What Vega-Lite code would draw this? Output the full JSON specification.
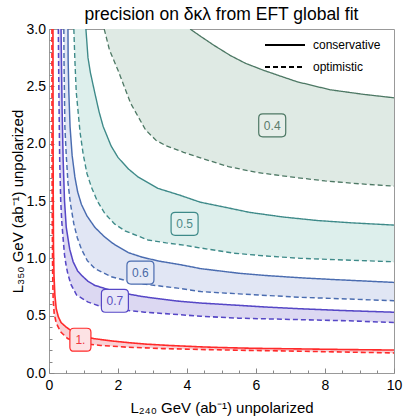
{
  "$schema": "https://vega.github.io/schema/vega-lite/v6.json",
  "width": 345,
  "height": 344,
  "autosize": {"type": "none"},
  "padding": {"left": 49, "top": 29, "right": 25, "bottom": 46},
  "config": {
    "view": {"stroke": "#999999", "strokeWidth": 1},
    "font": "Liberation Sans"
  },
  "title": {
    "text": "precision on δκλ from EFT global fit",
    "fontSize": 17.5,
    "fontWeight": "normal",
    "font": "Liberation Sans",
    "color": "black",
    "baseline": "top",
    "offset": -1,
    "anchor": "middle",
    "frame": "group"
  },
  "datasets": {
    "curves": [
      {"l":"1.","t":"conservative","i":0,"x":10,"y":0.2},
      {"l":"1.","t":"conservative","i":1,"x":8.5,"y":0.205},
      {"l":"1.","t":"conservative","i":2,"x":7.3,"y":0.21},
      {"l":"1.","t":"conservative","i":3,"x":6,"y":0.215},
      {"l":"1.","t":"conservative","i":4,"x":5,"y":0.222},
      {"l":"1.","t":"conservative","i":5,"x":4.4,"y":0.228},
      {"l":"1.","t":"conservative","i":6,"x":3.5,"y":0.24},
      {"l":"1.","t":"conservative","i":7,"x":2.8,"y":0.252},
      {"l":"1.","t":"conservative","i":8,"x":2.3,"y":0.265},
      {"l":"1.","t":"conservative","i":9,"x":1.8,"y":0.28},
      {"l":"1.","t":"conservative","i":10,"x":1.3,"y":0.3},
      {"l":"1.","t":"conservative","i":11,"x":1.0,"y":0.318},
      {"l":"1.","t":"conservative","i":12,"x":0.8,"y":0.34},
      {"l":"1.","t":"conservative","i":13,"x":0.64,"y":0.37},
      {"l":"1.","t":"conservative","i":14,"x":0.5,"y":0.4},
      {"l":"1.","t":"conservative","i":15,"x":0.35,"y":0.44},
      {"l":"1.","t":"conservative","i":16,"x":0.27,"y":0.49},
      {"l":"1.","t":"conservative","i":17,"x":0.21,"y":0.56},
      {"l":"1.","t":"conservative","i":18,"x":0.17,"y":0.68},
      {"l":"1.","t":"conservative","i":19,"x":0.145,"y":0.85},
      {"l":"1.","t":"conservative","i":20,"x":0.13,"y":1.1},
      {"l":"1.","t":"conservative","i":21,"x":0.122,"y":1.6},
      {"l":"1.","t":"conservative","i":22,"x":0.118,"y":2.2},
      {"l":"1.","t":"conservative","i":23,"x":0.115,"y":3.0},
      {"l":"1.","t":"optimistic","i":24,"x":0.085,"y":3.0},
      {"l":"1.","t":"optimistic","i":25,"x":0.088,"y":2.0},
      {"l":"1.","t":"optimistic","i":26,"x":0.095,"y":1.3},
      {"l":"1.","t":"optimistic","i":27,"x":0.105,"y":0.9},
      {"l":"1.","t":"optimistic","i":28,"x":0.12,"y":0.65},
      {"l":"1.","t":"optimistic","i":29,"x":0.15,"y":0.52},
      {"l":"1.","t":"optimistic","i":30,"x":0.2,"y":0.45},
      {"l":"1.","t":"optimistic","i":31,"x":0.25,"y":0.41},
      {"l":"1.","t":"optimistic","i":32,"x":0.35,"y":0.355},
      {"l":"1.","t":"optimistic","i":33,"x":0.54,"y":0.3},
      {"l":"1.","t":"optimistic","i":34,"x":0.75,"y":0.275},
      {"l":"1.","t":"optimistic","i":35,"x":1.03,"y":0.255},
      {"l":"1.","t":"optimistic","i":36,"x":1.5,"y":0.24},
      {"l":"1.","t":"optimistic","i":37,"x":2.28,"y":0.225},
      {"l":"1.","t":"optimistic","i":38,"x":3.3,"y":0.213},
      {"l":"1.","t":"optimistic","i":39,"x":4.4,"y":0.205},
      {"l":"1.","t":"optimistic","i":40,"x":5.8,"y":0.197},
      {"l":"1.","t":"optimistic","i":41,"x":7.3,"y":0.19},
      {"l":"1.","t":"optimistic","i":42,"x":8.7,"y":0.182},
      {"l":"1.","t":"optimistic","i":43,"x":10,"y":0.175},

      {"l":"0.7","t":"conservative","i":0,"x":10,"y":0.53},
      {"l":"0.7","t":"conservative","i":1,"x":8.5,"y":0.545},
      {"l":"0.7","t":"conservative","i":2,"x":7.3,"y":0.56},
      {"l":"0.7","t":"conservative","i":3,"x":6.3,"y":0.575},
      {"l":"0.7","t":"conservative","i":4,"x":5.5,"y":0.59},
      {"l":"0.7","t":"conservative","i":5,"x":4.4,"y":0.61},
      {"l":"0.7","t":"conservative","i":6,"x":3.8,"y":0.625},
      {"l":"0.7","t":"conservative","i":7,"x":3.24,"y":0.645},
      {"l":"0.7","t":"conservative","i":8,"x":2.7,"y":0.667},
      {"l":"0.7","t":"conservative","i":9,"x":2.28,"y":0.69},
      {"l":"0.7","t":"conservative","i":10,"x":1.8,"y":0.72},
      {"l":"0.7","t":"conservative","i":11,"x":1.32,"y":0.765},
      {"l":"0.7","t":"conservative","i":12,"x":1.13,"y":0.8},
      {"l":"0.7","t":"conservative","i":13,"x":0.95,"y":0.85},
      {"l":"0.7","t":"conservative","i":14,"x":0.83,"y":0.89},
      {"l":"0.7","t":"conservative","i":15,"x":0.7,"y":0.97},
      {"l":"0.7","t":"conservative","i":16,"x":0.6,"y":1.08},
      {"l":"0.7","t":"conservative","i":17,"x":0.5,"y":1.27},
      {"l":"0.7","t":"conservative","i":18,"x":0.45,"y":1.5},
      {"l":"0.7","t":"conservative","i":19,"x":0.41,"y":1.86},
      {"l":"0.7","t":"conservative","i":20,"x":0.38,"y":2.3},
      {"l":"0.7","t":"conservative","i":21,"x":0.36,"y":2.73},
      {"l":"0.7","t":"conservative","i":22,"x":0.35,"y":3.0},
      {"l":"0.7","t":"optimistic","i":23,"x":0.27,"y":3.0},
      {"l":"0.7","t":"optimistic","i":24,"x":0.285,"y":2.5},
      {"l":"0.7","t":"optimistic","i":25,"x":0.31,"y":1.86},
      {"l":"0.7","t":"optimistic","i":26,"x":0.34,"y":1.5},
      {"l":"0.7","t":"optimistic","i":27,"x":0.37,"y":1.32},
      {"l":"0.7","t":"optimistic","i":28,"x":0.41,"y":1.17},
      {"l":"0.7","t":"optimistic","i":29,"x":0.45,"y":1.03},
      {"l":"0.7","t":"optimistic","i":30,"x":0.5,"y":0.93},
      {"l":"0.7","t":"optimistic","i":31,"x":0.55,"y":0.86},
      {"l":"0.7","t":"optimistic","i":32,"x":0.64,"y":0.77},
      {"l":"0.7","t":"optimistic","i":33,"x":0.8,"y":0.68},
      {"l":"0.7","t":"optimistic","i":34,"x":1.12,"y":0.62},
      {"l":"0.7","t":"optimistic","i":35,"x":1.5,"y":0.58},
      {"l":"0.7","t":"optimistic","i":36,"x":1.8,"y":0.562},
      {"l":"0.7","t":"optimistic","i":37,"x":2.3,"y":0.545},
      {"l":"0.7","t":"optimistic","i":38,"x":2.77,"y":0.53},
      {"l":"0.7","t":"optimistic","i":39,"x":3.5,"y":0.515},
      {"l":"0.7","t":"optimistic","i":40,"x":4.4,"y":0.495},
      {"l":"0.7","t":"optimistic","i":41,"x":5.5,"y":0.478},
      {"l":"0.7","t":"optimistic","i":42,"x":7.3,"y":0.465},
      {"l":"0.7","t":"optimistic","i":43,"x":8.7,"y":0.455},
      {"l":"0.7","t":"optimistic","i":44,"x":10,"y":0.44},

      {"l":"0.6","t":"conservative","i":0,"x":10,"y":0.79},
      {"l":"0.6","t":"conservative","i":1,"x":8.25,"y":0.815},
      {"l":"0.6","t":"conservative","i":2,"x":7.3,"y":0.83},
      {"l":"0.6","t":"conservative","i":3,"x":6.3,"y":0.85},
      {"l":"0.6","t":"conservative","i":4,"x":5.5,"y":0.87},
      {"l":"0.6","t":"conservative","i":5,"x":4.4,"y":0.91},
      {"l":"0.6","t":"conservative","i":6,"x":3.8,"y":0.945},
      {"l":"0.6","t":"conservative","i":7,"x":3.2,"y":0.975},
      {"l":"0.6","t":"conservative","i":8,"x":2.7,"y":1.01},
      {"l":"0.6","t":"conservative","i":9,"x":2.3,"y":1.05},
      {"l":"0.6","t":"conservative","i":10,"x":1.85,"y":1.13},
      {"l":"0.6","t":"conservative","i":11,"x":1.6,"y":1.19},
      {"l":"0.6","t":"conservative","i":12,"x":1.33,"y":1.27},
      {"l":"0.6","t":"conservative","i":13,"x":1.1,"y":1.37},
      {"l":"0.6","t":"conservative","i":14,"x":0.94,"y":1.47},
      {"l":"0.6","t":"conservative","i":15,"x":0.83,"y":1.58},
      {"l":"0.6","t":"conservative","i":16,"x":0.75,"y":1.71},
      {"l":"0.6","t":"conservative","i":17,"x":0.67,"y":1.9},
      {"l":"0.6","t":"conservative","i":18,"x":0.61,"y":2.15},
      {"l":"0.6","t":"conservative","i":19,"x":0.575,"y":2.45},
      {"l":"0.6","t":"conservative","i":20,"x":0.555,"y":2.73},
      {"l":"0.6","t":"conservative","i":21,"x":0.55,"y":3.0},
      {"l":"0.6","t":"optimistic","i":22,"x":0.43,"y":3.0},
      {"l":"0.6","t":"optimistic","i":23,"x":0.435,"y":2.73},
      {"l":"0.6","t":"optimistic","i":24,"x":0.46,"y":2.15},
      {"l":"0.6","t":"optimistic","i":25,"x":0.5,"y":1.9},
      {"l":"0.6","t":"optimistic","i":26,"x":0.55,"y":1.66},
      {"l":"0.6","t":"optimistic","i":27,"x":0.62,"y":1.48},
      {"l":"0.6","t":"optimistic","i":28,"x":0.72,"y":1.3},
      {"l":"0.6","t":"optimistic","i":29,"x":0.82,"y":1.18},
      {"l":"0.6","t":"optimistic","i":30,"x":0.94,"y":1.08},
      {"l":"0.6","t":"optimistic","i":31,"x":1.11,"y":0.98},
      {"l":"0.6","t":"optimistic","i":32,"x":1.33,"y":0.91},
      {"l":"0.6","t":"optimistic","i":33,"x":1.8,"y":0.84},
      {"l":"0.6","t":"optimistic","i":34,"x":2.3,"y":0.8},
      {"l":"0.6","t":"optimistic","i":35,"x":2.76,"y":0.775},
      {"l":"0.6","t":"optimistic","i":36,"x":3.73,"y":0.74},
      {"l":"0.6","t":"optimistic","i":37,"x":4.4,"y":0.71},
      {"l":"0.6","t":"optimistic","i":38,"x":5.5,"y":0.69},
      {"l":"0.6","t":"optimistic","i":39,"x":7.3,"y":0.66},
      {"l":"0.6","t":"optimistic","i":40,"x":8.7,"y":0.645},
      {"l":"0.6","t":"optimistic","i":41,"x":10,"y":0.63},

      {"l":"0.5","t":"conservative","i":0,"x":10,"y":1.29},
      {"l":"0.5","t":"conservative","i":1,"x":8.74,"y":1.31},
      {"l":"0.5","t":"conservative","i":2,"x":7.77,"y":1.33},
      {"l":"0.5","t":"conservative","i":3,"x":6.8,"y":1.36},
      {"l":"0.5","t":"conservative","i":4,"x":5.83,"y":1.4},
      {"l":"0.5","t":"conservative","i":5,"x":4.87,"y":1.46},
      {"l":"0.5","t":"conservative","i":6,"x":4.38,"y":1.49},
      {"l":"0.5","t":"conservative","i":7,"x":3.8,"y":1.55},
      {"l":"0.5","t":"conservative","i":8,"x":3.16,"y":1.61},
      {"l":"0.5","t":"conservative","i":9,"x":2.93,"y":1.65},
      {"l":"0.5","t":"conservative","i":10,"x":2.58,"y":1.71},
      {"l":"0.5","t":"conservative","i":11,"x":2.3,"y":1.78},
      {"l":"0.5","t":"conservative","i":12,"x":2.0,"y":1.88},
      {"l":"0.5","t":"conservative","i":13,"x":1.8,"y":1.98},
      {"l":"0.5","t":"conservative","i":14,"x":1.57,"y":2.15},
      {"l":"0.5","t":"conservative","i":15,"x":1.45,"y":2.28},
      {"l":"0.5","t":"conservative","i":16,"x":1.33,"y":2.44},
      {"l":"0.5","t":"conservative","i":17,"x":1.2,"y":2.62},
      {"l":"0.5","t":"conservative","i":18,"x":1.13,"y":2.75},
      {"l":"0.5","t":"conservative","i":19,"x":1.07,"y":3.0},
      {"l":"0.5","t":"optimistic","i":20,"x":0.72,"y":3.0},
      {"l":"0.5","t":"optimistic","i":21,"x":0.75,"y":2.73},
      {"l":"0.5","t":"optimistic","i":22,"x":0.79,"y":2.45},
      {"l":"0.5","t":"optimistic","i":23,"x":0.84,"y":2.29},
      {"l":"0.5","t":"optimistic","i":24,"x":0.9,"y":2.1},
      {"l":"0.5","t":"optimistic","i":25,"x":0.99,"y":1.91},
      {"l":"0.5","t":"optimistic","i":26,"x":1.1,"y":1.74},
      {"l":"0.5","t":"optimistic","i":27,"x":1.23,"y":1.62},
      {"l":"0.5","t":"optimistic","i":28,"x":1.4,"y":1.5},
      {"l":"0.5","t":"optimistic","i":29,"x":1.62,"y":1.39},
      {"l":"0.5","t":"optimistic","i":30,"x":1.9,"y":1.3},
      {"l":"0.5","t":"optimistic","i":31,"x":2.2,"y":1.24},
      {"l":"0.5","t":"optimistic","i":32,"x":2.87,"y":1.16},
      {"l":"0.5","t":"optimistic","i":33,"x":3.4,"y":1.135},
      {"l":"0.5","t":"optimistic","i":34,"x":3.9,"y":1.115},
      {"l":"0.5","t":"optimistic","i":35,"x":4.4,"y":1.09},
      {"l":"0.5","t":"optimistic","i":36,"x":5.35,"y":1.045},
      {"l":"0.5","t":"optimistic","i":37,"x":6.3,"y":1.02},
      {"l":"0.5","t":"optimistic","i":38,"x":7.3,"y":1.0},
      {"l":"0.5","t":"optimistic","i":39,"x":8.6,"y":0.985},
      {"l":"0.5","t":"optimistic","i":40,"x":10,"y":0.97},

      {"l":"0.4","t":"conservative","i":0,"x":10,"y":2.4},
      {"l":"0.4","t":"conservative","i":1,"x":9.12,"y":2.43},
      {"l":"0.4","t":"conservative","i":2,"x":8.15,"y":2.47},
      {"l":"0.4","t":"conservative","i":3,"x":7.19,"y":2.54},
      {"l":"0.4","t":"conservative","i":4,"x":6.7,"y":2.59},
      {"l":"0.4","t":"conservative","i":5,"x":6.22,"y":2.64},
      {"l":"0.4","t":"conservative","i":6,"x":5.7,"y":2.7},
      {"l":"0.4","t":"conservative","i":7,"x":5.25,"y":2.77},
      {"l":"0.4","t":"conservative","i":8,"x":4.77,"y":2.86},
      {"l":"0.4","t":"conservative","i":9,"x":4.4,"y":2.935},
      {"l":"0.4","t":"conservative","i":10,"x":4.09,"y":3.0},
      {"l":"0.4","t":"optimistic","i":11,"x":1.6,"y":3.0},
      {"l":"0.4","t":"optimistic","i":12,"x":1.75,"y":2.82},
      {"l":"0.4","t":"optimistic","i":13,"x":2.0,"y":2.64},
      {"l":"0.4","t":"optimistic","i":14,"x":2.37,"y":2.35},
      {"l":"0.4","t":"optimistic","i":15,"x":2.8,"y":2.12},
      {"l":"0.4","t":"optimistic","i":16,"x":3.1,"y":2.03},
      {"l":"0.4","t":"optimistic","i":17,"x":3.4,"y":1.98},
      {"l":"0.4","t":"optimistic","i":18,"x":3.9,"y":1.925},
      {"l":"0.4","t":"optimistic","i":19,"x":4.5,"y":1.865},
      {"l":"0.4","t":"optimistic","i":20,"x":5.2,"y":1.8},
      {"l":"0.4","t":"optimistic","i":21,"x":6.0,"y":1.75},
      {"l":"0.4","t":"optimistic","i":22,"x":7.0,"y":1.71},
      {"l":"0.4","t":"optimistic","i":23,"x":8.0,"y":1.675},
      {"l":"0.4","t":"optimistic","i":24,"x":9.0,"y":1.65},
      {"l":"0.4","t":"optimistic","i":25,"x":10,"y":1.63}
    ],
    "labels": [
      {"lbl":"1.","x":0.91,"y":0.29},
      {"lbl":"0.7","x":1.91,"y":0.63},
      {"lbl":"0.6","x":2.65,"y":0.876},
      {"lbl":"0.5","x":3.93,"y":1.3},
      {"lbl":"0.4","x":6.47,"y":2.16}
    ]
  },
  "encoding": {
    "x": {
      "field": "x",
      "type": "quantitative",
      "scale": {"domain": [0, 10], "nice": false, "zero": false},
      "axis": {
        "title": "L₂₄₀ GeV (ab⁻¹) unpolarized",
        "values": [0,0.5,1,1.5,2,2.5,3,3.5,4,4.5,5,5.5,6,6.5,7,7.5,8,8.5,9,9.5,10],
        "labelExpr": "abs(datum.value/2 - round(datum.value/2)) < 0.001 ? format(datum.value, 'd') : ''",
        "tickSize": {"condition": {"test": "abs(datum.value/2 - round(datum.value/2)) < 0.001", "value": -5}, "value": -3},
        "labelPadding": 10,
        "labelFlush": false,
        "labelOverlap": false,
        "domain": false,
        "grid": false,
        "tickColor": "#888888",
        "labelColor": "black",
        "labelFontSize": 14,
        "labelFont": "Liberation Sans",
        "titleFontSize": 15,
        "titleFont": "Liberation Sans",
        "titleFontWeight": "normal",
        "titleColor": "black",
        "titlePadding": 6
      }
    },
    "y": {
      "field": "y",
      "type": "quantitative",
      "scale": {"domain": [0, 3], "nice": false, "zero": false},
      "axis": {
        "title": "L₃₅₀ GeV (ab⁻¹) unpolarized",
        "values": [0,0.1,0.2,0.3,0.4,0.5,0.6,0.7,0.8,0.9,1,1.1,1.2,1.3,1.4,1.5,1.6,1.7,1.8,1.9,2,2.1,2.2,2.3,2.4,2.5,2.6,2.7,2.8,2.9,3],
        "labelExpr": "abs(datum.value*2 - round(datum.value*2)) < 0.001 ? format(datum.value, '.1f') : ''",
        "tickSize": {"condition": {"test": "abs(datum.value*2 - round(datum.value*2)) < 0.001", "value": -5}, "value": -3},
        "labelPadding": 8.5,
        "labelFlush": false,
        "labelOverlap": false,
        "domain": false,
        "grid": false,
        "tickColor": "#888888",
        "labelColor": "black",
        "labelFontSize": 14,
        "labelFont": "Liberation Sans",
        "titleFontSize": 15,
        "titleFont": "Liberation Sans",
        "titleFontWeight": "normal",
        "titleColor": "black",
        "titlePadding": 1
      }
    }
  },
  "layer": [
    {
      "data": {"name": "curves"},
      "mark": {"type": "line", "clip": true, "strokeOpacity": 0, "interpolate": "linear"},
      "encoding": {
        "fill": {
          "field": "l",
          "type": "nominal",
          "scale": {"domain": ["1.","0.7","0.6","0.5","0.4"], "range": ["#f9d0d4","#dcd8f2","#e1e6f4","#ddefec","#dfeae4"]},
          "legend": null
        },
        "order": {"field": "i", "type": "quantitative"}
      }
    },
    {
      "data": {"name": "curves"},
      "mark": {"type": "line", "clip": true, "interpolate": "linear"},
      "encoding": {
        "stroke": {
          "field": "l",
          "type": "nominal",
          "scale": {"domain": ["1.","0.7","0.6","0.5","0.4"], "range": ["#ff2a2a","#5647c6","#4a6cb0","#3e8a89","#4d7864"]},
          "legend": null
        },
        "strokeWidth": {
          "field": "l",
          "type": "nominal",
          "scale": {"domain": ["1.","0.7","0.6","0.5","0.4"], "range": [1.6,1.3,1.3,1.3,1.3]},
          "legend": null
        },
        "strokeDash": {
          "field": "t",
          "type": "nominal",
          "scale": {"domain": ["conservative","optimistic"], "range": [[1,0],[5,3]]},
          "legend": {
            "title": null,
            "orient": "none",
            "legendX": 215,
            "legendY": 6,
            "symbolType": "stroke",
            "symbolSize": 1600,
            "symbolStrokeWidth": 1.8,
            "symbolStrokeColor": "black",
            "clipHeight": 20,
            "rowPadding": 2,
            "labelFontSize": 12,
            "labelFont": "Liberation Sans",
            "labelColor": "black",
            "labelOffset": 7,
            "padding": 0,
            "symbolOffset": 0,
            "encode": {"symbols": {"update": {"stroke": {"value": "black"}, "strokeWidth": {"value": 1.8}}}}
          }
        },
        "order": {"field": "i", "type": "quantitative"}
      }
    },
    {
      "data": {"name": "labels"},
      "mark": {"type": "point", "filled": true, "opacity": 1, "size": 729, "strokeWidth": 1.2},
      "encoding": {
        "shape": {
          "field": "lbl",
          "type": "nominal",
          "scale": {
            "domain": ["1.","0.7","0.6","0.5","0.4"],
            "range": [
              "M-0.48,-0.85L0.48,-0.85Q0.78,-0.85 0.78,-0.55L0.78,0.55Q0.78,0.85 0.48,0.85L-0.48,0.85Q-0.78,0.85 -0.78,0.55L-0.78,-0.55Q-0.78,-0.85 -0.48,-0.85Z",
              "M-0.7,-0.85L0.7,-0.85Q1,-0.85 1,-0.55L1,0.55Q1,0.85 0.7,0.85L-0.7,0.85Q-1,0.85 -1,0.55L-1,-0.55Q-1,-0.85 -0.7,-0.85Z",
              "M-0.7,-0.85L0.7,-0.85Q1,-0.85 1,-0.55L1,0.55Q1,0.85 0.7,0.85L-0.7,0.85Q-1,0.85 -1,0.55L-1,-0.55Q-1,-0.85 -0.7,-0.85Z",
              "M-0.7,-0.85L0.7,-0.85Q1,-0.85 1,-0.55L1,0.55Q1,0.85 0.7,0.85L-0.7,0.85Q-1,0.85 -1,0.55L-1,-0.55Q-1,-0.85 -0.7,-0.85Z",
              "M-0.7,-0.85L0.7,-0.85Q1,-0.85 1,-0.55L1,0.55Q1,0.85 0.7,0.85L-0.7,0.85Q-1,0.85 -1,0.55L-1,-0.55Q-1,-0.85 -0.7,-0.85Z"
            ]
          },
          "legend": null
        },
        "fill": {
          "field": "lbl",
          "type": "nominal",
          "scale": {"domain": ["1.","0.7","0.6","0.5","0.4"], "range": ["#fde2e4","#e8e6f8","#e6eaf6","#e3f2f0","#e6eee9"]},
          "legend": null
        },
        "stroke": {
          "field": "lbl",
          "type": "nominal",
          "scale": {"domain": ["1.","0.7","0.6","0.5","0.4"], "range": ["#ff2a2a","#5647c6","#4a6cb0","#3e8a89","#4d7864"]},
          "legend": null
        }
      }
    },
    {
      "data": {"name": "labels"},
      "mark": {"type": "text", "fontSize": 12, "font": "Liberation Sans", "align": "center", "baseline": "middle", "dy": 0.5},
      "encoding": {
        "text": {"field": "lbl", "type": "nominal"},
        "color": {
          "field": "lbl",
          "type": "nominal",
          "scale": {"domain": ["1.","0.7","0.6","0.5","0.4"], "range": ["#f0383f","#5a4fc0","#4b6aa6","#4f8a88","#5b7b6b"]},
          "legend": null
        }
      }
    }
  ],
  "resolve": {"scale": {"fill": "independent"}}
}
